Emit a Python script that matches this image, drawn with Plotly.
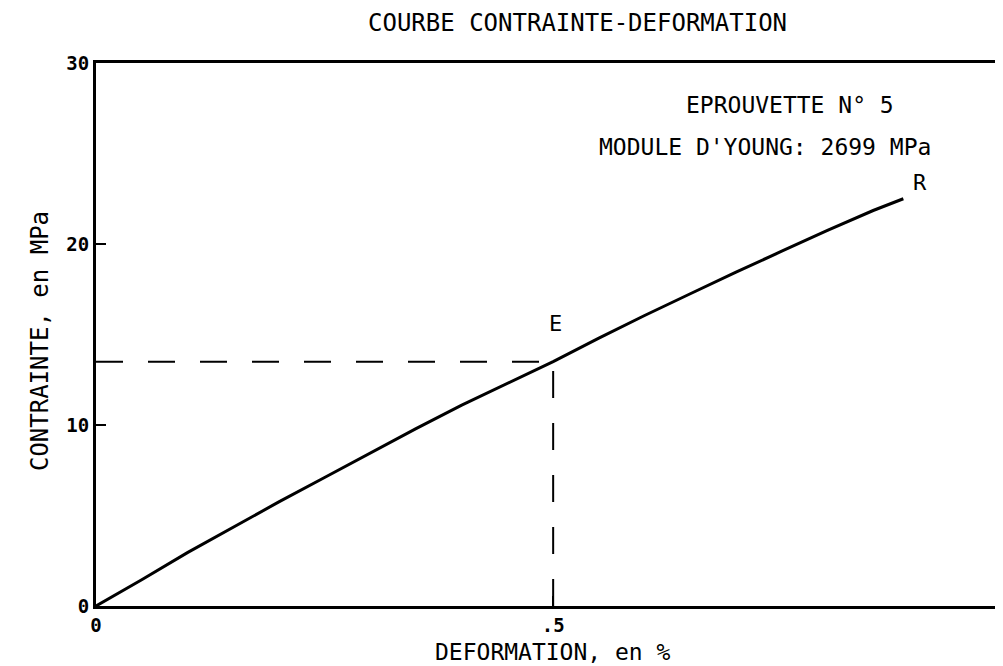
import plotly.graph_objects as go

# Data
strain = [0.0, 0.05, 0.10, 0.15, 0.20, 0.25, 0.30, 0.35, 0.40, 0.45, 0.50,
          0.55, 0.60, 0.65, 0.70, 0.75, 0.80, 0.85, 0.883]
stress = [0.0, 1.45, 2.95, 4.35, 5.75, 7.1, 8.45, 9.8, 11.1, 12.3, 13.5,
          14.8, 16.05, 17.25, 18.45, 19.6, 20.75, 21.85, 22.5]
elastic_point = (0.5, 13.5)   # point E
x_ticks = [0, 0.5]
x_tick_labels = ["0", ".5"]
y_ticks = [0, 10, 20, 30]
y_tick_labels = ["0", "10", "20", "30"]

FONT = "DejaVu Sans Mono"
BLACK = "#000000"

fig = go.Figure()

ex, ey = elastic_point
# dashed guide lines to point E
fig.add_trace(go.Scatter(x=[0, ex], y=[ey, ey], mode="lines",
                         line=dict(color=BLACK, width=2, dash="27px,25px"),
                         showlegend=False, hoverinfo="skip"))
fig.add_trace(go.Scatter(x=[ex, ex], y=[0, ey], mode="lines",
                         line=dict(color=BLACK, width=2, dash="27px,25px"),
                         showlegend=False, hoverinfo="skip"))
# stress-strain curve
fig.add_trace(go.Scatter(x=strain, y=stress, mode="lines",
                         line=dict(color=BLACK, width=3),
                         showlegend=False))

annos = [
    dict(text="COURBE CONTRAINTE-DEFORMATION", xref="paper", yref="paper",
         x=0.531, y=1.0735, size=24),
    dict(text="DEFORMATION, en %", xref="x", yref="paper",
         x=0.5, y=-0.0845, size=23),
    dict(text="EPROUVETTE N° 5", xref="x", yref="y", x=0.759, y=27.7, size=23),
    dict(text="MODULE D'YOUNG: 2699 MPa", xref="x", yref="y", x=0.732, y=25.36, size=23),
    dict(text="R", xref="x", yref="y", x=0.9015, y=23.4, size=22),
    dict(text="E", xref="x", yref="y", x=0.503, y=15.6, size=22),
]
for a in annos:
    fig.add_annotation(text=a["text"], xref=a["xref"], yref=a["yref"],
                       x=a["x"], y=a["y"], showarrow=False,
                       xanchor="center", yanchor="middle",
                       font=dict(family=FONT, size=a["size"], color=BLACK))

fig.add_annotation(text="CONTRAINTE, en MPa", xref="paper", yref="paper",
                   x=-0.0617, y=0.488, textangle=-90, showarrow=False,
                   xanchor="center", yanchor="middle",
                   font=dict(family=FONT, size=24, color=BLACK))

# page body has an 8px default margin, so the figure is sized to fill the rest
fig.update_layout(
    width=995, height=658,
    margin=dict(l=88, r=0, t=55, b=60),
    paper_bgcolor="white", plot_bgcolor="white",
    showlegend=False,
    xaxis=dict(range=[0, 0.992], tickvals=x_ticks, ticktext=x_tick_labels,
               ticks="inside", ticklen=10, tickwidth=2, tickcolor=BLACK,
               showline=True, linewidth=3, linecolor=BLACK, mirror=True,
               showgrid=False, zeroline=False,
               tickfont=dict(family=FONT, size=19, color=BLACK, weight="bold")),
    yaxis=dict(range=[0, 30], tickvals=y_ticks, ticktext=y_tick_labels,
               ticks="inside", ticklen=10, tickwidth=2, tickcolor=BLACK,
               showline=True, linewidth=3, linecolor=BLACK, mirror=False,
               showgrid=False, zeroline=False,
               tickfont=dict(family=FONT, size=19, color=BLACK, weight="bold")),
)

fig.write_html("out.html")
